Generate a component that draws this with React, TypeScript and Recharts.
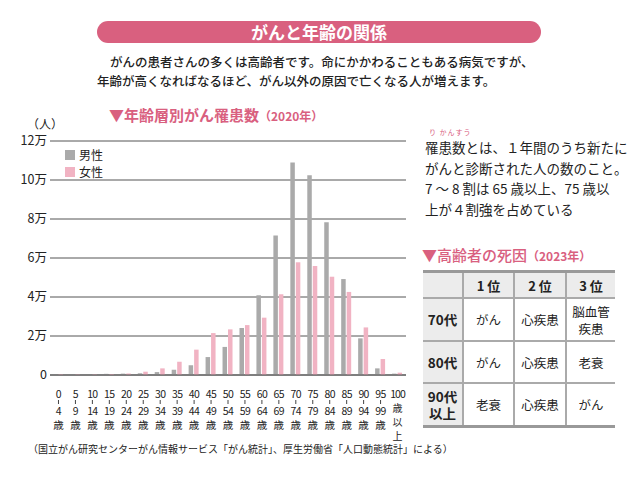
import React from 'react';
import { BarChart, Bar, XAxis, YAxis, CartesianGrid, Legend } from 'recharts';

// age groups (start / end of each 5-year band)
const ageFrom = ['0', '5', '10', '15', '20', '25', '30', '35', '40', '45', '50', '55', '60', '65', '70', '75', '80', '85', '90', '95', '100'];
const ageTo = ['4', '9', '14', '19', '24', '29', '34', '39', '44', '49', '54', '59', '64', '69', '74', '79', '84', '89', '94', '99', ''];

// new cancer cases, 2020 (persons)
const maleCases = [500, 300, 400, 600, 700, 900, 1500, 2700, 5000, 9200, 14400, 24100, 40900, 71500, 109000, 102400, 78300, 49200, 18800, 3400, 700];
const femaleCases = [400, 300, 300, 500, 800, 1700, 3400, 6800, 13000, 21500, 23400, 25600, 29400, 41400, 57800, 55900, 50400, 42600, 24400, 8200, 1200];

const yTicks = [0, 20000, 40000, 60000, 80000, 100000, 120000];

const rankHeaders = ['1 位', '2 位', '3 位'];
const rankRows = ['70代', '80代', '90代\n以上'];
const rankCauses = [
  ['がん', '心疾患', '脳血管\n疾患'],
  ['がん', '心疾患', '老衰'],
  ['老衰', '心疾患', 'がん'],
];

const PINK = '#d9607f';
const MALE = '#aaaaaa';
const FEMALE = '#f1b3c3';
const FONT = '"Noto Sans CJK JP", "Noto Sans", sans-serif';

const data = ageFrom.map((a, i) => ({ age: a, to: ageTo[i], male: maleCases[i], female: femaleCases[i] }));

const AgeTick = (props: any) => {
  const { x, y, payload } = props;
  const row = data.find((d) => d.age === payload.value);
  const common = { textAnchor: 'middle' as const, fontSize: 10.5, fill: '#222', fontFamily: FONT, dominantBaseline: 'central' as const };
  if (row && row.to === '') {
    // last band: "100 / 歳 / 以 / 上"
    return (
      <g>
        <text x={x} y={y + 10} {...common} letterSpacing={-1}>{payload.value}</text>
        <text x={x} y={y + 24} {...common} fontSize={10}>歳</text>
        <text x={x} y={y + 38} {...common} fontSize={10}>以</text>
        <text x={x} y={y + 52} {...common} fontSize={10}>上</text>
      </g>
    );
  }
  return (
    <g>
      <text x={x} y={y + 10} {...common} letterSpacing={-0.6}>{payload.value}</text>
      <line x1={x} x2={x} y1={y + 17} y2={y + 21} stroke="#444" strokeWidth={1} />
      <text x={x} y={y + 27} {...common} letterSpacing={-0.6}>{row ? row.to : ''}</text>
      <text x={x} y={y + 41} {...common}>歳</text>
    </g>
  );
};

const SexLegend = () => (
  <div style={{ fontFamily: FONT, fontSize: 12, color: '#222', lineHeight: 1 }}>
    {[
      { name: '男性', color: MALE },
      { name: '女性', color: FEMALE },
    ].map((it) => (
      <div key={it.name} style={{ display: 'flex', alignItems: 'center', height: 17 }}>
        <span style={{ display: 'inline-block', width: 10, height: 10, background: it.color, marginRight: 4 }} />
        <span style={{ lineHeight: '13px' }}>{it.name}</span>
      </div>
    ))}
  </div>
);

const App: React.FC = () => {
  const colW = [39, 51, 52, 50];
  const rowH = [43, 42, 43];

  return (
    <div style={{ position: 'absolute', left: 0, top: 0, width: 640, height: 479, background: '#fff', overflow: 'hidden', fontFamily: FONT, color: '#222' }}>
      {/* title banner */}
      <div style={{ position: 'absolute', left: 97, top: 21, width: 444, height: 22, borderRadius: 11, background: PINK, color: '#fff', fontSize: 17, fontWeight: 700, lineHeight: '22px', textAlign: 'center' }}>
        がんと年齢の関係
      </div>
      <div style={{ position: 'absolute', left: 110, top: 52, fontSize: 12.5, fontWeight: 500, whiteSpace: 'nowrap' }}>
        がんの患者さんの多くは高齢者です。命にかかわることもある病気ですが、
      </div>
      <div style={{ position: 'absolute', left: 97, top: 71, fontSize: 12.5, fontWeight: 500, whiteSpace: 'nowrap' }}>
        年齢が高くなればなるほど、がん以外の原因で亡くなる人が増えます。
      </div>
      <div style={{ position: 'absolute', left: 109, top: 104, fontSize: 15, fontWeight: 700, color: PINK, whiteSpace: 'nowrap' }}>
        ▼年齢層別がん罹患数<span style={{ fontSize: 12 }}>（2020年）</span>
      </div>
      <div style={{ position: 'absolute', left: 27, top: 115, fontSize: 12, whiteSpace: 'nowrap' }}>（人）</div>

      {/* chart */}
      <div style={{ position: 'absolute', left: 0, top: 120 }}>
        <BarChart width={420} height={330} data={data} margin={{ top: 21, right: 14, left: 0, bottom: 0 }} barSize={4.5} barGap={1}>
          <CartesianGrid vertical={false} stroke="#555" strokeWidth={1} />
          <XAxis dataKey="age" interval={0} tick={<AgeTick />} tickLine={false} axisLine={{ stroke: '#555' }} height={75} />
          <YAxis
            domain={[0, 120000]}
            ticks={yTicks}
            width={50}
            axisLine={false}
            tickLine={false}
            tickSize={0}
            tickMargin={3}
            tick={{ fill: '#222', fontSize: 12.5, fontFamily: FONT }}
            tickFormatter={(v: number) => (v === 0 ? '0' : `${v / 10000}万`)}
          />
          <Legend
            layout="vertical"
            align="center"
            verticalAlign="middle"
            content={<SexLegend />}
            wrapperStyle={{ top: 26, left: 65, width: 'auto', height: 'auto' }}
          />
          <Bar dataKey="male" name="男性" fill={MALE} isAnimationActive={false} />
          <Bar dataKey="female" name="女性" fill={FEMALE} isAnimationActive={false} />
        </BarChart>
      </div>

      {/* explanation */}
      <div style={{ position: 'absolute', left: 429, top: 128, fontSize: 7, lineHeight: '8px', color: PINK, whiteSpace: 'nowrap', letterSpacing: 1 }}>り かんすう</div>
      <div style={{ position: 'absolute', left: 425, top: 137, fontSize: 13.5, lineHeight: '20.5px', whiteSpace: 'nowrap' }}>
        罹患数とは、１年間のうち新たに<br />
        がんと診断された人の数のこと。<br />
        7 ～ 8 割は 65 歳以上、75 歳以<br />
        上が４割強を占めている
      </div>

      {/* causes of death table */}
      <div style={{ position: 'absolute', left: 422, top: 244, fontSize: 15, fontWeight: 500, color: PINK, whiteSpace: 'nowrap' }}>
        ▼高齢者の死因<span style={{ fontSize: 12, fontWeight: 700 }}>（2023年）</span>
      </div>
      <div style={{ position: 'absolute', left: 423, top: 270, width: 192, borderTop: '3px solid #999', borderBottom: '3px solid #999', background: '#aaa' }}>
        <div style={{ display: 'flex', height: 24 }}>
          <div style={{ width: colW[0], background: '#ececec' }} />
          {rankHeaders.map((h, i) => (
            <div key={h} style={{ width: colW[i + 1] - 2, marginLeft: 2, background: '#ececec', display: 'flex', alignItems: 'center', justifyContent: 'center', fontSize: 13, fontWeight: 700 }}>{h}</div>
          ))}
        </div>
        {rankRows.map((r, ri) => (
          <div key={r} style={{ display: 'flex', height: rowH[ri] - 2, marginTop: 2 }}>
            <div style={{ width: colW[0], background: '#ececec', display: 'flex', alignItems: 'center', justifyContent: 'center', fontSize: 13.5, fontWeight: 700, whiteSpace: 'pre-line', textAlign: 'center', lineHeight: '17px' }}>{r}</div>
            {rankCauses[ri].map((c, ci) => (
              <div key={ci} style={{ width: colW[ci + 1] - 2, marginLeft: 2, background: '#fff', display: 'flex', alignItems: 'center', justifyContent: 'center', fontSize: 12.5, whiteSpace: 'pre-line', textAlign: 'center', lineHeight: '17px' }}>{c}</div>
            ))}
          </div>
        ))}
      </div>

      {/* source */}
      <div style={{ position: 'absolute', left: 28, top: 441, fontSize: 10, whiteSpace: 'nowrap' }}>
        （国立がん研究センターがん情報サービス「がん統計」、厚生労働省「人口動態統計」による）
      </div>
    </div>
  );
};

export default App;
